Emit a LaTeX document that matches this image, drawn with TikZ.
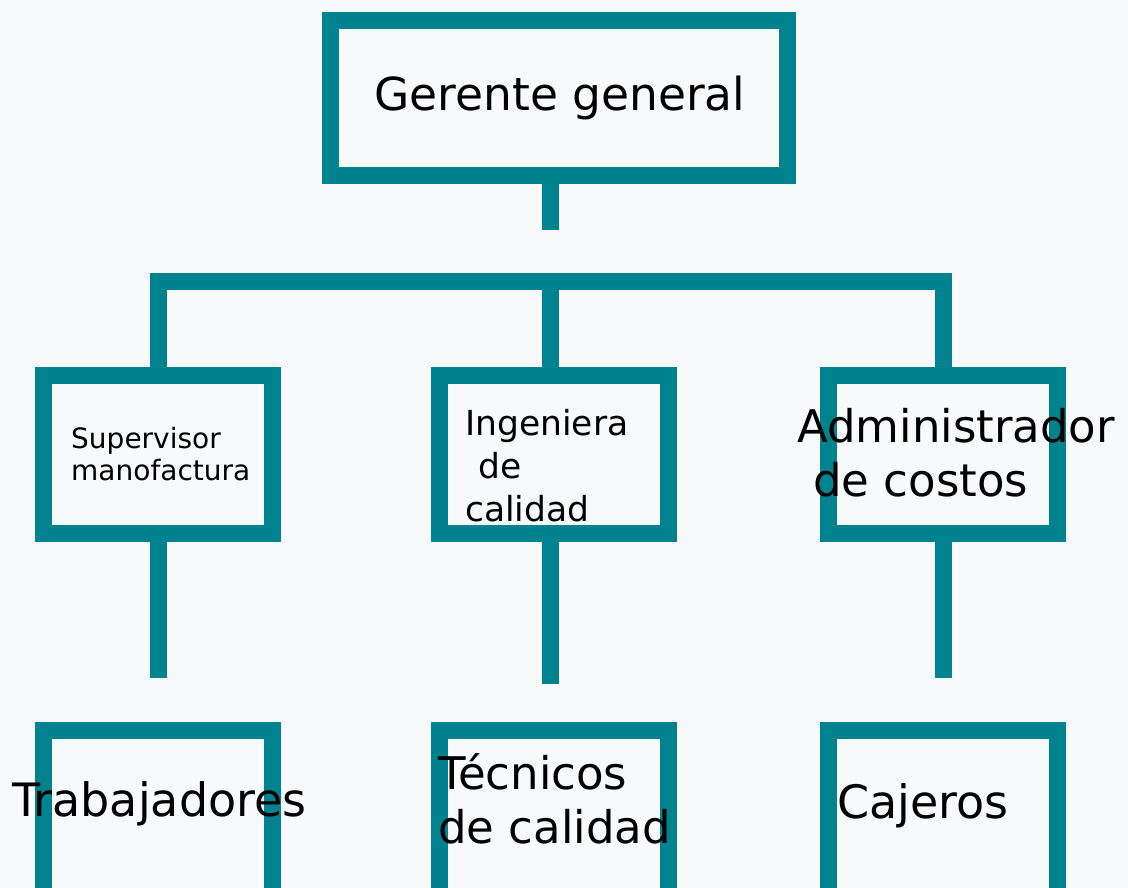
\documentclass[tikz,border=0pt]{standalone}
\usepackage{fontspec}
\setmainfont{DejaVu Sans}
\usepackage{xcolor}
\usepackage{tikz}
\definecolor{verdeazul}{RGB}{0,131,143}
\definecolor{fondo}{RGB}{248,249,250}

\begin{document}
\begin{tikzpicture}[x=1pt, y=-1pt,
    puesto/.style={draw=verdeazul, line width=17pt, minimum width=229pt, minimum height=158pt, inner sep=0pt},
    enlace/.style={draw=verdeazul, line width=17pt},
    texto/.style={inner sep=0pt, text=black}]
\path[use as bounding box, fill=fondo] (0,0) rectangle (1128,888);
\clip (0,0) rectangle (1128,888);

% cajas
\node[puesto, minimum width=457pt, minimum height=155pt] (gerente) at (559,98) {};
\node[puesto] (supervisor) at (158,454.5) {};
\node[puesto] (ingeniera) at (553.5,454.5) {};
\node[puesto] (administrador) at (943,454.5) {};
\node[puesto, minimum height=173pt] (trabajadores) at (158,817) {};
\node[puesto, minimum height=173pt] (tecnicos) at (553.5,817) {};
\node[puesto, minimum height=173pt] (cajeros) at (943,817) {};

% lineas
\coordinate (tallo) at (550.5,230);
\coordinate (barra) at (550.5,281.5);
\coordinate (pie1) at (158,678);
\coordinate (pie2) at (550.5,684);
\coordinate (pie3) at (943,678);
\draw[enlace] (gerente.south -| tallo) -- (tallo);
\draw[enlace] (supervisor.north) |- (barra) -| (administrador.north);
\draw[enlace] (barra) -- (ingeniera.north -| barra);
\draw[enlace] (supervisor.south) -- (pie1);
\draw[enlace] (ingeniera.south -| pie2) -- (pie2);
\draw[enlace] (administrador.south) -- (pie3);

% textos
\node[texto, font=\fontsize{45.5}{54}\selectfont] (t-gerente) at (560,98) {Gerente general};
\node[texto, font=\fontsize{28}{32}\selectfont, align=left, anchor=north west] (t-supervisor) at (71,427) {Supervisor\\manofactura};
\node[texto, font=\fontsize{34.5}{43}\selectfont, align=left, anchor=north west] (t-ingeniera) at (465,409) {Ingeniera\\\hspace*{13pt}de\\calidad};
\node[texto, font=\fontsize{45}{54}\selectfont, align=left, anchor=north west] (t-administrador) at (797,408) {Administrador\\\hspace*{16pt}de costos};
\node[texto, font=\fontsize{46}{54}\selectfont, anchor=base west] (t-trabajadores) at (12,816) {Trabajadores};
\node[texto, font=\fontsize{45}{54}\selectfont, align=left, anchor=north west] (t-tecnicos) at (438,753) {Técnicos\\de calidad};
\node[texto, font=\fontsize{46}{54}\selectfont, anchor=base west] (t-cajeros) at (837,818) {Cajeros};
\end{tikzpicture}
\end{document}
